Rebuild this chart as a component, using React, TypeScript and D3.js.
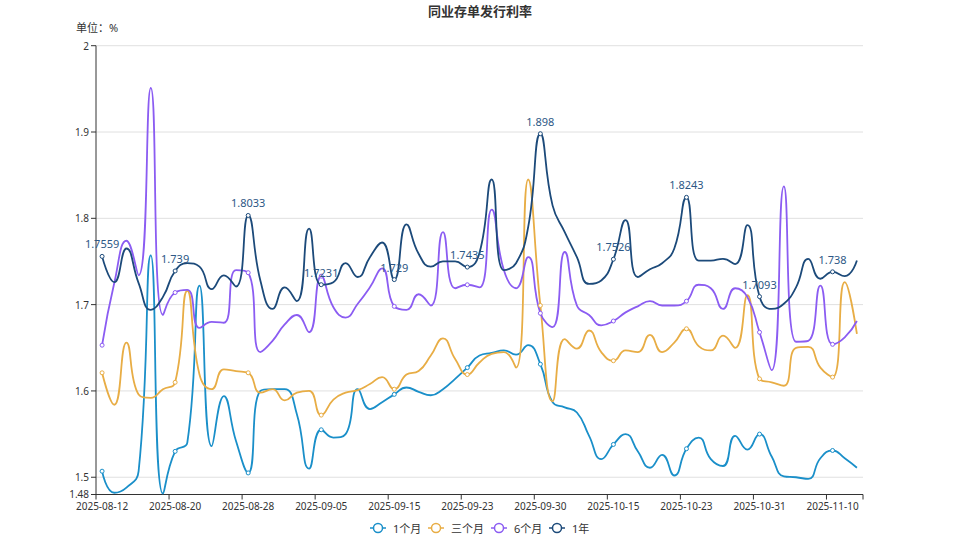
import { useMemo } from "react";
import * as d3 from "d3";

const WIDTH = 959;
const HEIGHT = 539;
const MARGIN = { top: 45.7, right: 96, bottom: 44.5, left: 96 };

// trading days, 2025-08-12 .. 2025-11-12
const dates = [
  "2025-08-12", "2025-08-13", "2025-08-14", "2025-08-15", "2025-08-18", "2025-08-19", "2025-08-20",
  "2025-08-21", "2025-08-22", "2025-08-25", "2025-08-26", "2025-08-27", "2025-08-28", "2025-08-29",
  "2025-09-01", "2025-09-02", "2025-09-03", "2025-09-04", "2025-09-05", "2025-09-08", "2025-09-09",
  "2025-09-10", "2025-09-11", "2025-09-12", "2025-09-15", "2025-09-16", "2025-09-17", "2025-09-18",
  "2025-09-19", "2025-09-22", "2025-09-23", "2025-09-24", "2025-09-25", "2025-09-26", "2025-09-28",
  "2025-09-29", "2025-09-30", "2025-10-09", "2025-10-10", "2025-10-11", "2025-10-13", "2025-10-14",
  "2025-10-15", "2025-10-16", "2025-10-17", "2025-10-20", "2025-10-21", "2025-10-22", "2025-10-23",
  "2025-10-24", "2025-10-27", "2025-10-28", "2025-10-29", "2025-10-30", "2025-10-31", "2025-11-03",
  "2025-11-04", "2025-11-05", "2025-11-06", "2025-11-07", "2025-11-10", "2025-11-11", "2025-11-12",
];

const oneMonth = [
  1.507, 1.482, 1.488, 1.507, 1.757, 1.481, 1.53, 1.54, 1.722, 1.536, 1.594, 1.542, 1.505, 1.6,
  1.602, 1.602, 1.573, 1.51, 1.555, 1.546, 1.55, 1.602, 1.579, 1.587, 1.596, 1.604, 1.599, 1.595,
  1.602, 1.614, 1.627, 1.641, 1.644, 1.647, 1.642, 1.653, 1.631, 1.587, 1.581, 1.575, 1.548, 1.521,
  1.538, 1.55, 1.53, 1.511, 1.526, 1.502, 1.533, 1.546, 1.521, 1.513, 1.548, 1.532, 1.55, 1.524,
  1.501, 1.5, 1.498, 1.522, 1.531, 1.522, 1.511,
];

const threeMonth = [
  1.621, 1.584, 1.656, 1.596, 1.592, 1.602, 1.61, 1.716, 1.619, 1.602, 1.625, 1.623, 1.621, 1.598,
  1.602, 1.589, 1.598, 1.6, 1.572, 1.59, 1.598, 1.601, 1.608, 1.616, 1.602, 1.619, 1.623, 1.641,
  1.661, 1.637, 1.619, 1.633, 1.643, 1.645, 1.627, 1.845, 1.699, 1.588, 1.66, 1.649, 1.67, 1.645,
  1.635, 1.647, 1.645, 1.665, 1.645, 1.656, 1.672, 1.652, 1.647, 1.664, 1.65, 1.711, 1.614, 1.61,
  1.606, 1.65, 1.651, 1.627, 1.616, 1.726, 1.666,
];

const sixMonth = [
  1.653, 1.725, 1.774, 1.734, 1.951, 1.688, 1.714, 1.717, 1.673, 1.68, 1.679, 1.74, 1.737, 1.645,
  1.658, 1.677, 1.688, 1.668, 1.733, 1.697, 1.685, 1.701, 1.72, 1.742, 1.698, 1.694, 1.712, 1.699,
  1.784, 1.719, 1.723, 1.72, 1.81, 1.74, 1.719, 1.755, 1.69, 1.674, 1.761, 1.699, 1.688, 1.676,
  1.681, 1.691, 1.698, 1.704, 1.699, 1.699, 1.704, 1.723, 1.719, 1.695, 1.719, 1.709, 1.668, 1.624,
  1.837, 1.657, 1.658, 1.722, 1.654, 1.662, 1.681,
];

const oneYear = [
  1.7559, 1.726, 1.765, 1.725, 1.694, 1.709, 1.739, 1.748, 1.744, 1.718, 1.734, 1.721, 1.8033, 1.728,
  1.695, 1.72, 1.704, 1.788, 1.7231, 1.726, 1.748, 1.732, 1.755, 1.772, 1.729, 1.793, 1.759, 1.744,
  1.75, 1.75, 1.7435, 1.76, 1.845, 1.74, 1.748, 1.79, 1.898, 1.815, 1.784, 1.755, 1.724, 1.728,
  1.7526, 1.798, 1.732, 1.741, 1.748, 1.765, 1.8243, 1.751, 1.751, 1.753, 1.747, 1.792, 1.7093, 1.695,
  1.701, 1.72, 1.753, 1.73, 1.738, 1.733, 1.751,
];

const seriesNames = ["1个月", "三个月", "6个月", "1年"];
const seriesColors = ["#1a8fc9", "#e8ad45", "#8b5cf2", "#1c4a7a"];
const yTicks = [1.48, 1.5, 1.6, 1.7, 1.8, 1.9, 2];

const FONT = "'Noto Sans', 'Noto Sans CJK SC', sans-serif";

// smooth curve whose control points stay inside the box of neighbouring points (no overshoot)
const boundedSmooth = (smooth: number) => (context: any) => {
  let pts: [number, number][] = [];
  const clamp = (v: number, a: number, b: number) => Math.max(Math.min(a, b), Math.min(v, Math.max(a, b)));
  return {
    areaStart() {},
    areaEnd() {},
    lineStart() {
      pts = [];
    },
    point(x: number, y: number) {
      pts.push([+x, +y]);
    },
    lineEnd() {
      const n = pts.length;
      if (!n) return;
      context.moveTo(pts[0][0], pts[0][1]);
      let c0x = pts[0][0];
      let c0y = pts[0][1];
      for (let i = 1; i < n; i++) {
        const [x, y] = pts[i];
        const [px, py] = pts[i - 1];
        let c1x = x;
        let c1y = y;
        let nx0 = x;
        let ny0 = y;
        if (i < n - 1) {
          const [nx, ny] = pts[i + 1];
          const lp = Math.hypot(x - px, y - py);
          const ln = Math.hypot(nx - x, ny - y);
          const r = ln / (ln + lp);
          let vx = nx - px;
          let vy = ny - py;
          nx0 = clamp(x + vx * smooth * r, nx, x);
          ny0 = clamp(y + vy * smooth * r, ny, y);
          vx = nx0 - x;
          vy = ny0 - y;
          c1x = clamp(x - (vx * lp) / ln, px, x);
          c1y = clamp(y - (vy * lp) / ln, py, y);
          vx = x - c1x;
          vy = y - c1y;
          nx0 = x + (vx * ln) / lp;
          ny0 = y + (vy * ln) / lp;
        }
        context.bezierCurveTo(c0x, c0y, c1x, c1y, x, y);
        c0x = nx0;
        c0y = ny0;
      }
    },
  };
};

const App = () => {
  const x0 = MARGIN.left;
  const x1 = x0 + 767;
  const yBottom = HEIGHT - MARGIN.bottom;

  const xScale = useMemo(
    () => d3.scaleBand<string>().domain(dates).range([x0, x1]).padding(0),
    []
  );
  const yScale = useMemo(
    () => d3.scaleLinear().domain([1.48, 2]).range([yBottom, MARGIN.top]),
    []
  );
  const cx = (i: number) => (xScale(dates[i]) as number) + xScale.bandwidth() / 2;

  const line = d3
    .line<number>()
    .x((_, i) => cx(i))
    .y((d) => yScale(d))
    .curve(boundedSmooth(0.5) as any);

  const allSeries = [oneMonth, threeMonth, sixMonth, oneYear];
  const symbolIdx = dates.map((_, i) => i).filter((i) => i % 6 === 0);
  const xTickIdx = dates.map((_, i) => i).filter((i) => i % 6 === 0);

  // legend layout
  const legendItems = [
    { x: 370, tx: 393 },
    { x: 428, tx: 451 },
    { x: 491, tx: 514 },
    { x: 549, tx: 572 },
  ];

  return (
    <div style={{ position: "absolute", left: 0, top: 0 }}>
      <svg width={WIDTH} height={HEIGHT} style={{ display: "block", background: "white", fontFamily: FONT }}>
        <defs>
          <clipPath id="plot-clip">
            <rect x={x0} y={MARGIN.top - 30} width={x1 - x0} height={yBottom - MARGIN.top + 31} />
          </clipPath>
        </defs>

        {/* title */}
        <text x={480} y={16} textAnchor="middle" fontSize={13} fontWeight="bold" fill="#333">
          同业存单发行利率
        </text>
        <text x={76} y={32} fontSize={11} fill="#333">
          单位：%
        </text>

        {/* grid lines */}
        {yTicks.map((t) => (
          <line key={t} x1={x0} x2={x1} y1={yScale(t)} y2={yScale(t)} stroke="#e0e0e0" strokeWidth={1} />
        ))}

        {/* y axis */}
        <line x1={x0} x2={x0} y1={MARGIN.top} y2={yBottom} stroke="#333" strokeWidth={1} />
        {yTicks.map((t) => (
          <g key={"yt" + t}>
            <line x1={x0 - 5} x2={x0} y1={yScale(t)} y2={yScale(t)} stroke="#333" />
            <text
              x={x0 - 7}
              y={yScale(t) - (t === 1.48 ? 1 : 0)}
              textAnchor="end"
              dominantBaseline="central"
              fontSize={10}
              fill="#333"
            >
              {t}
            </text>
          </g>
        ))}

        {/* x axis */}
        <line x1={x0} x2={x1} y1={yBottom} y2={yBottom} stroke="#333" strokeWidth={1} />
        {xTickIdx.map((i) => (
          <g key={"xt" + i}>
            <line
              x1={xScale(dates[i]) as number}
              x2={xScale(dates[i]) as number}
              y1={yBottom}
              y2={yBottom + 5}
              stroke="#333"
            />
            <text x={cx(i)} y={yBottom + 15} textAnchor="middle" fontSize={10} fill="#333">
              {dates[i]}
            </text>
          </g>
        ))}
        <line x1={x1} x2={x1} y1={yBottom} y2={yBottom + 5} stroke="#333" />

        {/* series lines */}
        <g clipPath="url(#plot-clip)">
          {allSeries.map((s, k) => (
            <path key={"l" + k} d={line(s) || ""} fill="none" stroke={seriesColors[k]} strokeWidth={1.8} />
          ))}
        </g>

        {/* symbols */}
        {allSeries.map((s, k) =>
          symbolIdx.map((i) => (
            <circle
              key={"c" + k + "-" + i}
              cx={cx(i)}
              cy={yScale(s[i])}
              r={2}
              fill="#fff"
              stroke={seriesColors[k]}
              strokeWidth={1}
            />
          ))
        )}

        {/* labels of 1年 */}
        {symbolIdx.map((i) => (
          <text
            key={"lb" + i}
            x={cx(i)}
            y={yScale(oneYear[i]) - 8}
            textAnchor="middle"
            fontSize={11}
            fill="#2d5886"
          >
            {oneYear[i]}
          </text>
        ))}

        {/* legend */}
        {legendItems.map((it, k) => (
          <g key={"lg" + k}>
            <line x1={it.x} x2={it.x + 16} y1={528} y2={528} stroke={seriesColors[k]} strokeWidth={1.5} />
            <circle cx={it.x + 8} cy={528} r={4.5} fill="#fff" stroke={seriesColors[k]} strokeWidth={1.5} />
            <text x={it.tx} y={528} dominantBaseline="central" fontSize={11} fill="#333">
              {seriesNames[k]}
            </text>
          </g>
        ))}
      </svg>
    </div>
  );
};

export default App;
